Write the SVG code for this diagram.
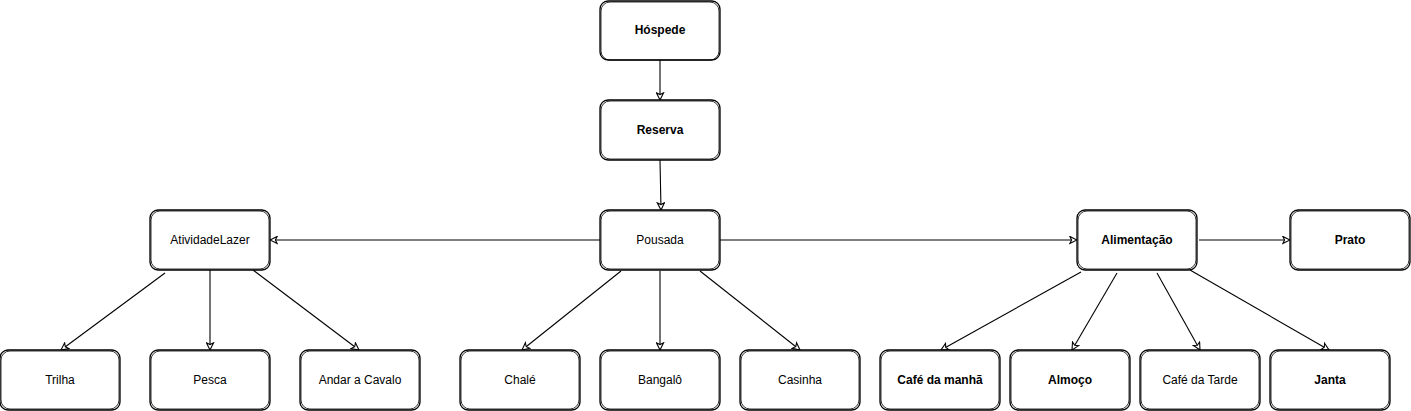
<svg xmlns="http://www.w3.org/2000/svg" width="1411" height="411" viewBox="0 0 1411 411">
<style>
.box{fill:#fff;stroke:#000;stroke-width:1.3}
.box2{fill:none;stroke:#000;stroke-width:0.8}
.t{font-family:"Liberation Sans",Arial,sans-serif;font-size:12px;fill:#000;text-anchor:middle;dominant-baseline:central}
.b{font-weight:bold}
.c{fill:none;stroke:#000;stroke-width:1.1;marker-end:url(#arr)}
</style>
<defs>
<marker id="arr" viewBox="0 0 10 10" refX="9" refY="5" markerWidth="9" markerHeight="9" markerUnits="userSpaceOnUse" orient="auto">
<path d="M1,1 L9,5 L1,9 L3,5 Z" fill="#fff" stroke="#000" stroke-width="1.2"/>
</marker>
</defs>
<g id="connectors">
<path class="c" d="M660,60 L660,100"/>
<path class="c" d="M660,160 L661,210"/>
<path class="c" d="M600,240 L270,240"/>
<path class="c" d="M720,240 L1077,240"/>
<path class="c" d="M1199,240 L1290,240"/>
<path class="c" d="M165,273 L61,350"/>
<path class="c" d="M210,270 L210,350"/>
<path class="c" d="M253,270 L359,350"/>
<path class="c" d="M621,271 L522,350"/>
<path class="c" d="M660,271 L660,350"/>
<path class="c" d="M700,271 L800,350"/>
<path class="c" d="M1081,272 L941,350"/>
<path class="c" d="M1117,273 L1072,350"/>
<path class="c" d="M1157,273 L1200,350"/>
<path class="c" d="M1190,270 L1329,350"/>
</g>
<g id="hospede"><rect class="box" x="600" y="1" width="120" height="59" rx="8"/><rect class="box2" x="601" y="2" width="118" height="58" rx="9"/><text class="t b" x="660" y="30">Hóspede</text></g>
<g id="reserva"><rect class="box" x="600" y="100" width="120" height="60" rx="8"/><rect class="box2" x="601" y="101" width="118" height="58" rx="9"/><text class="t b" x="660" y="130">Reserva</text></g>
<g id="pousada"><rect class="box" x="600" y="210" width="120" height="60" rx="8"/><rect class="box2" x="601" y="211" width="118" height="58" rx="9"/><text class="t" x="660" y="240">Pousada</text></g>
<g id="atividadelazer"><rect class="box" x="150" y="210" width="120" height="60" rx="8"/><rect class="box2" x="151" y="211" width="118" height="58" rx="9"/><text class="t" x="210" y="240">AtividadeLazer</text></g>
<g id="alimentacao"><rect class="box" x="1077" y="210" width="120" height="60" rx="8"/><rect class="box2" x="1078" y="211" width="118" height="58" rx="9"/><text class="t b" x="1137" y="240">Alimentação</text></g>
<g id="prato"><rect class="box" x="1290" y="210" width="120" height="60" rx="8"/><rect class="box2" x="1291" y="211" width="118" height="58" rx="9"/><text class="t b" x="1350" y="240">Prato</text></g>
<g id="trilha"><rect class="box" x="0" y="350" width="120" height="60" rx="8"/><rect class="box2" x="1" y="351" width="118" height="58" rx="9"/><text class="t" x="60" y="380">Trilha</text></g>
<g id="pesca"><rect class="box" x="150" y="350" width="120" height="60" rx="8"/><rect class="box2" x="151" y="351" width="118" height="58" rx="9"/><text class="t" x="210" y="380">Pesca</text></g>
<g id="andar"><rect class="box" x="300" y="350" width="120" height="60" rx="8"/><rect class="box2" x="301" y="351" width="118" height="58" rx="9"/><text class="t" x="360" y="380">Andar a Cavalo</text></g>
<g id="chale"><rect class="box" x="460" y="350" width="120" height="60" rx="8"/><rect class="box2" x="461" y="351" width="118" height="58" rx="9"/><text class="t" x="520" y="380">Chalé</text></g>
<g id="bangalo"><rect class="box" x="600" y="350" width="120" height="60" rx="8"/><rect class="box2" x="601" y="351" width="118" height="58" rx="9"/><text class="t" x="660" y="380">Bangalô</text></g>
<g id="casinha"><rect class="box" x="740" y="350" width="120" height="60" rx="8"/><rect class="box2" x="741" y="351" width="118" height="58" rx="9"/><text class="t" x="800" y="380">Casinha</text></g>
<g id="cafemanha"><rect class="box" x="880" y="350" width="120" height="60" rx="8"/><rect class="box2" x="881" y="351" width="118" height="58" rx="9"/><text class="t b" x="940" y="380">Café da manhã</text></g>
<g id="almoco"><rect class="box" x="1010" y="350" width="120" height="60" rx="8"/><rect class="box2" x="1011" y="351" width="118" height="58" rx="9"/><text class="t b" x="1070" y="380">Almoço</text></g>
<g id="cafetarde"><rect class="box" x="1140" y="350" width="120" height="60" rx="8"/><rect class="box2" x="1141" y="351" width="118" height="58" rx="9"/><text class="t" x="1200" y="380">Café da Tarde</text></g>
<g id="janta"><rect class="box" x="1270" y="350" width="120" height="60" rx="8"/><rect class="box2" x="1271" y="351" width="118" height="58" rx="9"/><text class="t b" x="1330" y="380">Janta</text></g>
</svg>
